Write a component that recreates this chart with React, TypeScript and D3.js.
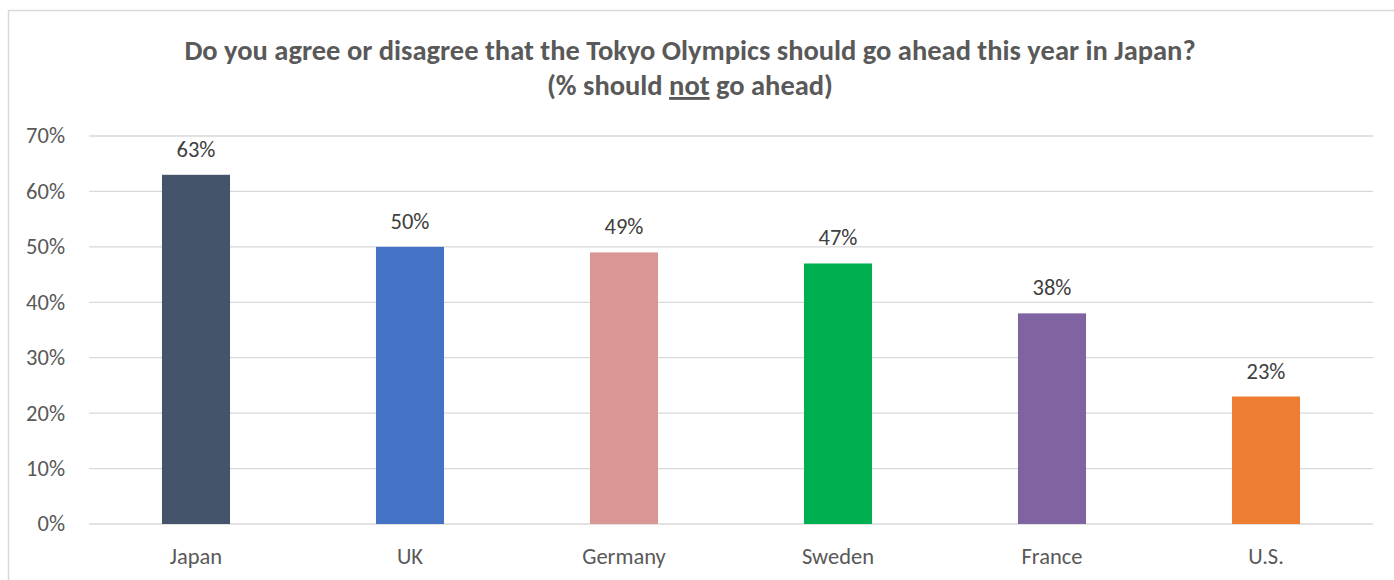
import React from "react";
import * as d3 from "d3";

const categories = ["Japan", "UK", "Germany", "Sweden", "France", "U.S."];
const values = [63, 50, 49, 47, 38, 23];
const barColors = ["#44546A", "#4472C4", "#DA9694", "#00B050", "#8064A2", "#ED7D31"];
const yTicks = [0, 10, 20, 30, 40, 50, 60, 70];
const titleLine1 = "Do you agree or disagree that the Tokyo Olympics should go ahead this year in Japan?";

const W = 1394;
const H = 580;
const FONT = "Carlito, Calibri, 'Open Sans', 'Liberation Sans', sans-serif";
const TEXT = "#595959";
const GRID = "#D9D9D9";

export default function App() {
  const x = d3.scaleBand<string>().domain(categories).range([89, 1373]).paddingInner(0.682).paddingOuter(0.341);
  const y = d3.scaleLinear().domain([0, 70]).range([524, 136]);

  return (
    <svg width={W} height={H} style={{ position: "absolute", left: 0, top: 0, display: "block" }} fontFamily={FONT}>
      <rect x={0} y={0} width={W} height={H} fill="#fff" />
      <rect x={8.5} y={10.5} width={W + 20} height={H + 20} fill="none" stroke={GRID} strokeWidth={1.5} />
      <text x={690} y={60} textAnchor="middle" fontSize={28.5} fontWeight="bold" fill={TEXT}>
        {titleLine1}
      </text>
      <text x={690} y={95} textAnchor="middle" fontSize={28.5} fontWeight="bold" fill={TEXT}>
        <tspan>(% should </tspan>
        <tspan textDecoration="underline" style={{ textDecoration: "underline" }}>not</tspan>
        <tspan> go ahead)</tspan>
      </text>
      {yTicks.map((t) => (
        <g key={t}>
          <line x1={89} x2={1373} y1={y(t)} y2={y(t)} stroke={GRID} strokeWidth={t === 0 ? 1.5 : 1.3} />
          <text x={65} y={y(t)} dy="0.33em" textAnchor="end" fontSize={22.5} fill={TEXT}>
            {t}%
          </text>
        </g>
      ))}
      {categories.map((c, i) => (
        <g key={c}>
          <rect x={x(c)} y={y(values[i])} width={x.bandwidth()} height={y(0) - y(values[i])} fill={barColors[i]} />
          <text x={(x(c) as number) + x.bandwidth() / 2} y={y(values[i]) - 18} textAnchor="middle" fontSize={22.5} fill={"#404040"}>
            {values[i]}%
          </text>
          <text x={(x(c) as number) + x.bandwidth() / 2} y={564} textAnchor="middle" fontSize={22.5} fill={TEXT}>
            {c}
          </text>
        </g>
      ))}
    </svg>
  );
}
